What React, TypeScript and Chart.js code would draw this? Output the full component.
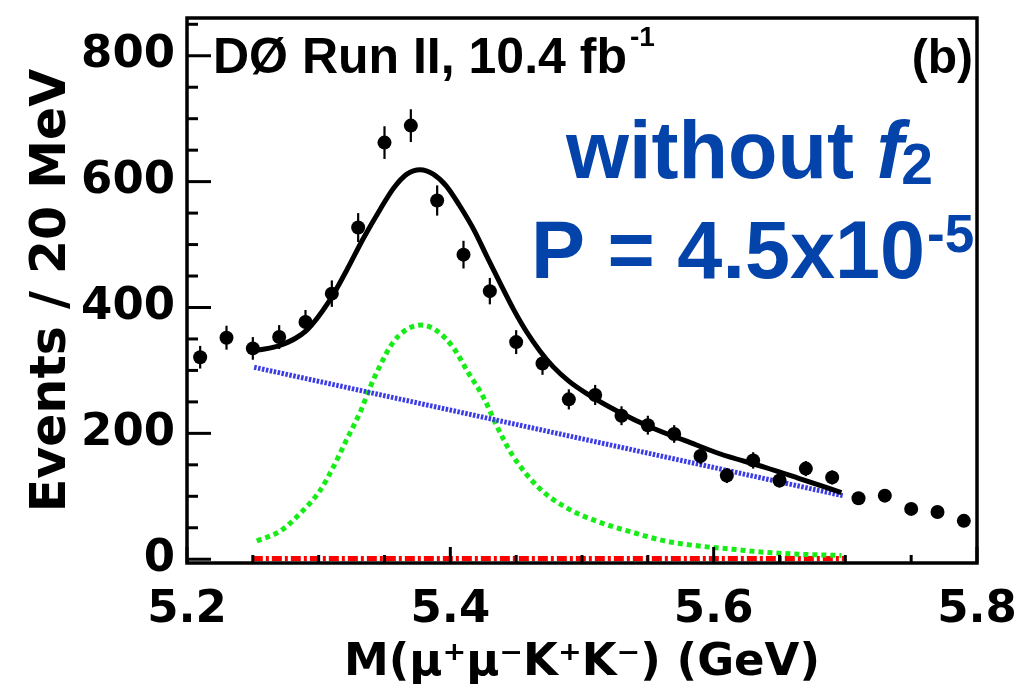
import { useEffect, useRef } from "react";
import { Chart, registerables } from "chart.js";

Chart.register(...registerables);

// Binned candidate counts (20 MeV bins)
const massBins = [
  5.21, 5.23, 5.25, 5.27, 5.29, 5.31, 5.33, 5.35, 5.37, 5.39,
  5.41, 5.43, 5.45, 5.47, 5.49, 5.51, 5.53, 5.55, 5.57, 5.59,
  5.61, 5.63, 5.65, 5.67, 5.69, 5.71, 5.73, 5.75, 5.77, 5.79,
];
const eventCounts = [
  321, 352, 335, 353, 377, 422, 527, 662, 689, 570,
  484, 426, 345, 311, 254, 261, 228, 213, 199, 164,
  133, 157, 125, 144, 130, 97, 101, 80, 75, 61,
];
const countErrors = [
  18, 19, 18, 19, 19, 21, 23, 26, 26, 24,
  22, 21, 19, 18, 16, 16, 15, 15, 14, 13,
  12, 13, 11, 12, 11, 10, 10, 9, 9, 8,
];

// Total fit
const fitMass = [
  5.253, 5.271, 5.291, 5.308, 5.321, 5.334, 5.347, 5.357, 5.367, 5.377,
  5.387, 5.397, 5.407, 5.418, 5.428, 5.438, 5.448, 5.458, 5.468, 5.478,
  5.49, 5.503, 5.528, 5.553, 5.579, 5.604, 5.639, 5.664, 5.697,
];
const fitTotal = [
  332, 340, 364, 410, 458, 510, 557, 590, 612, 619,
  612, 593, 562, 523, 480, 438, 397, 361, 331, 306,
  283, 264, 234, 209, 188, 168, 146, 129, 106,
];

// Signal component
const sigMass = [
  5.253, 5.271, 5.288, 5.301, 5.311, 5.321, 5.332, 5.339, 5.346, 5.356,
  5.366, 5.378, 5.389, 5.402, 5.414, 5.425, 5.435, 5.447, 5.467, 5.488,
  5.513, 5.538, 5.563, 5.589, 5.614, 5.639, 5.664, 5.697,
];
const sigValues = [
  29, 45, 77, 109, 146, 189, 236, 273, 305, 343,
  364, 372, 364, 337, 295, 258, 213, 166, 114, 82,
  59, 43, 29, 21, 16, 11, 8, 6,
];

// Combinatorial background component
const bkgMass = [5.251, 5.698];
const bkgValues = [305, 101];

// Flat component
const flatMass = [5.25, 5.7];
const flatValues = [1, 1];

const xTickValues = [5.2, 5.4, 5.6, 5.8];
const yTickValues = [0, 200, 400, 600, 800];

const pts = (xs: number[], ys: number[]) => xs.map((x, i) => ({ x, y: ys[i] }));

const decorPlugin = {
  id: "decor",
  afterDatasetsDraw(chart: any) {
    const { ctx, scales } = chart;
    const x = scales.x;
    const y = scales.y;
    ctx.save();
    ctx.strokeStyle = "#000";
    ctx.lineWidth = 2.2;
    massBins.forEach((m, i) => {
      const px = x.getPixelForValue(m);
      ctx.beginPath();
      ctx.moveTo(px, y.getPixelForValue(eventCounts[i] + countErrors[i]));
      ctx.lineTo(px, y.getPixelForValue(eventCounts[i] - countErrors[i]));
      ctx.stroke();
    });
    ctx.restore();
  },
  afterDraw(chart: any) {
    const { ctx, chartArea: a, scales } = chart;
    const x = scales.x;
    const y = scales.y;
    ctx.save();
    ctx.strokeStyle = "#000";
    ctx.lineWidth = 3;
    // inward tick marks on the left axis
    for (let v = 0; v <= 850; v += 50) {
      const py = y.getPixelForValue(v);
      const len = v % 200 === 0 ? 24 : 11;
      ctx.beginPath();
      ctx.moveTo(a.left, py);
      ctx.lineTo(a.left + len, py);
      ctx.stroke();
    }
    // inward tick marks on the bottom axis
    for (let k = 0; k <= 12; k++) {
      const px = x.getPixelForValue(5.2 + k * 0.05);
      const len = k % 4 === 0 ? 16 : 8;
      ctx.beginPath();
      ctx.moveTo(px, a.bottom);
      ctx.lineTo(px, a.bottom - len);
      ctx.stroke();
    }
    // frame
    ctx.lineWidth = 3.5;
    ctx.strokeRect(a.left, a.top, a.right - a.left, a.bottom - a.top);

    // header texts
    ctx.fillStyle = "#000";
    ctx.textAlign = "left";
    ctx.textBaseline = "alphabetic";
    ctx.font = 'bold 50px "Liberation Sans"';
    const head = "DØ Run II, 10.4 fb";
    ctx.fillText(head, 213, 73);
    const hw = ctx.measureText(head).width;
    ctx.font = 'bold 28px "Liberation Sans"';
    ctx.fillText("-1", 213 + hw + 3, 46);
    ctx.font = 'bold 48px "Liberation Sans"';
    ctx.textAlign = "right";
    ctx.fillText("(b)", 973, 73);

    // annotation
    ctx.textAlign = "left";
    ctx.fillStyle = "#0444aa";
    ctx.font = 'bold 81px "Liberation Sans"';
    const w1 = "without ";
    ctx.fillText(w1, 566, 178);
    const fx = 566 + ctx.measureText(w1).width;
    ctx.font = 'italic bold 81px "Liberation Sans"';
    ctx.fillText("f", fx, 178);
    const fw = ctx.measureText("f").width;
    ctx.font = 'bold 57px "Liberation Sans"';
    ctx.fillText("2", fx + fw - 2, 184);
    ctx.font = 'bold 81px "Liberation Sans"';
    const p = "P = 4.5x10";
    ctx.fillText(p, 531, 278);
    const pw = ctx.measureText(p).width;
    ctx.font = 'bold 53px "Liberation Sans"';
    ctx.fillText("-5", 531 + pw + 2, 252);
    ctx.restore();
  },
};

export default function App() {
  const canvasRef = useRef<HTMLCanvasElement | null>(null);

  useEffect(() => {
    const canvas = canvasRef.current;
    if (!canvas) return;
    const tickFont = { family: "'DejaVu Sans'", size: 45, weight: "bold" as const };
    const chart = new Chart(canvas, {
      type: "line",
      data: {
        datasets: [
          {
            type: "scatter",
            data: pts(massBins, eventCounts),
            pointRadius: 7,
            pointBackgroundColor: "#000",
            pointBorderWidth: 0,
            order: 0,
          } as any,
          {
            data: pts(fitMass, fitTotal),
            borderColor: "#000",
            borderWidth: 5,
            pointRadius: 0,
            cubicInterpolationMode: "monotone",
            fill: false,
            order: 1,
          },
          {
            data: pts(bkgMass, bkgValues),
            borderColor: "#3c3ce6",
            borderWidth: 5,
            borderDash: [2.5, 1.5],
            pointRadius: 0,
            fill: false,
            order: 2,
          },
          {
            data: pts(sigMass, sigValues),
            borderColor: "#18ec18",
            borderWidth: 5,
            borderDash: [5, 4],
            pointRadius: 0,
            cubicInterpolationMode: "monotone",
            fill: false,
            order: 3,
          },
          {
            data: pts(flatMass, flatValues),
            borderColor: "#ff0000",
            borderWidth: 5,
            borderDash: [10, 3, 3, 3],
            pointRadius: 0,
            fill: false,
            order: 4,
          },
        ],
      },
      options: {
        responsive: false,
        animation: false,
        events: [],
        layout: { padding: { left: 0, top: 18, right: 51, bottom: 0 } },
        plugins: { legend: { display: false }, tooltip: { enabled: false } },
        scales: {
          x: {
            type: "linear",
            min: 5.2,
            max: 5.8,
            afterFit: (s: any) => {
              s.height = 124;
              s.paddingLeft = 0;
              s.paddingRight = 0;
            },
            afterBuildTicks: (s: any) => {
              s.ticks = xTickValues.map((v) => ({ value: v }));
            },
            grid: { display: false, drawTicks: false },
            border: { display: false },
            ticks: {
              autoSkip: false,
              maxRotation: 0,
              padding: 20,
              color: "#000",
              font: tickFont,
              callback: (v: any) => Number(v).toFixed(1),
            },
            title: {
              display: true,
              text: "M(μ⁺μ⁻K⁺K⁻) (GeV)",
              color: "#000",
              font: { ...tickFont, lineHeight: 1 },
              padding: { top: 0, bottom: 1 },
            },
          },
          y: {
            type: "linear",
            min: -6,
            max: 860,
            afterFit: (s: any) => {
              s.width = 187;
              s.paddingTop = 0;
              s.paddingBottom = 0;
            },
            afterBuildTicks: (s: any) => {
              s.ticks = yTickValues.map((v) => ({ value: v }));
            },
            grid: { display: false, drawTicks: false },
            border: { display: false },
            ticks: {
              autoSkip: false,
              padding: 12,
              color: "#000",
              font: tickFont,
            },
            title: {
              display: true,
              text: "Events / 20 MeV",
              color: "#000",
              font: { family: "'DejaVu Sans'", size: 49, weight: "bold", lineHeight: 1 },
              padding: { top: 28, bottom: 0 },
            },
          },
        },
      },
      plugins: [decorPlugin],
    });
    return () => chart.destroy();
  }, []);

  return (
    <div style={{ position: "absolute", left: 0, top: 0, width: 1028, height: 687, background: "#fff" }}>
      <canvas ref={canvasRef} width={1028} height={687} style={{ display: "block" }} />
    </div>
  );
}
